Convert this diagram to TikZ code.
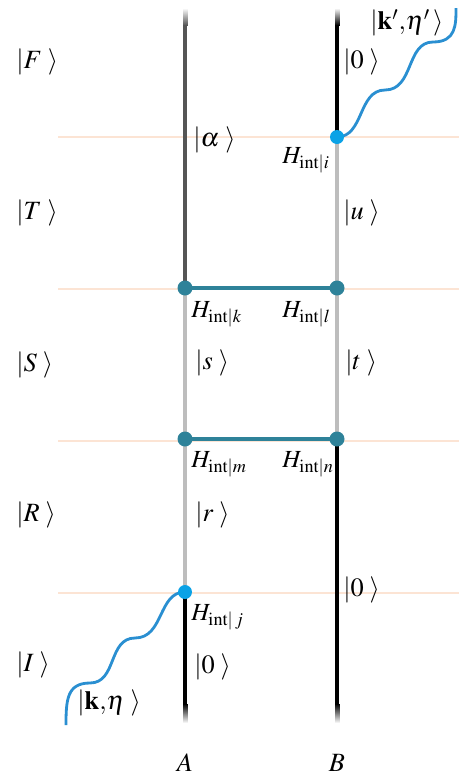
\documentclass[tikz,border=0pt]{standalone}
\usepackage{mathptmx}
\usepackage{fontspec}
\setmainfont{Liberation Serif}
\usetikzlibrary{positioning, backgrounds}
\definecolor{lnA}{HTML}{555555}
\definecolor{lnL}{HTML}{BDBDBD}
\definecolor{rng}{HTML}{2E8299}
\definecolor{phc}{HTML}{2A8FD1}
\definecolor{phd}{HTML}{0BA2E6}
\definecolor{slc}{HTML}{FCE4D4}
\newcommand{\kt}[1]{\ensuremath{|#1\;\rangle}}

\begin{document}
\begin{tikzpicture}[x=0.02cm, y=-0.02cm,
    font=\fontsize{15}{17}\selectfont,
    slice/.style={slc, line width=0.6pt},
    wl/.style={line width=2.8pt},
    rung/.style={rng, line width=2.8pt},
    vtx/.style={circle, fill=rng, minimum size=0.3cm, inner sep=0pt},
    emt/.style={circle, fill=phd, minimum size=0.28cm, inner sep=0pt},
    ph/.style={phc, line width=1.6pt},
    lab/.style={anchor=west, inner sep=0pt},
    hlab/.style={anchor=base west, inner sep=0pt,
                 font=\fontsize{14}{16}\selectfont},
  ]
  \useasboundingbox (0,0) rectangle (459,778);

  % vertices
  \node[emt] (i) at (337,137) {};
  \node[vtx] (k) at (185,288) {};
  \node[vtx] (l) at (337,288) {};
  \node[vtx] (m) at (185,439) {};
  \node[vtx] (n) at (337,439) {};
  \node[emt] (j) at (185,592) {};
  \coordinate (Atop) at (185,25);  \coordinate (Abot) at (185,705);
  \coordinate (Btop) at (337,25);  \coordinate (Bbot) at (337,705);
  \coordinate (kin)  at (66,725);  \coordinate (kout) at (456,8);

  \begin{scope}[on background layer]
    % time slices
    \foreach \y in {137,289,441,593}
      \draw[slice] (58,\y) -- (459,\y);
    % faded ends of the world lines
    \foreach \s [evaluate=\s as \p using 5.8*\s] in {0,...,17} {
      \fill[lnA!\p!white]   (182.5,8+\s) rectangle (187.5,9.2+\s);
      \fill[black!\p!white] (334.5,8+\s) rectangle (339.5,9.2+\s);
    }
    \foreach \s [evaluate=\s as \p using 5.2*\s] in {0,...,19} {
      \fill[black!\p!white] (182.5,724-\s) rectangle (187.5,722.8-\s);
      \fill[black!\p!white] (334.5,724-\s) rectangle (339.5,722.8-\s);
    }
    % world line A
    \draw[wl, lnA] (Atop) -- (k.center);
    \draw[wl, lnL] (k.center) -- (m.center);
    \draw[wl, lnL] (m.center) -- (j.center);
    \draw[wl, black] (j.center) -- (Abot);
    % world line B
    \draw[wl, black] (Btop) -- (i.center);
    \draw[wl, lnL] (i.center) -- (l.center);
    \draw[wl, lnL] (l.center) -- (n.center);
    \draw[wl, black] (n.center) -- (Bbot);
    % exchanges
    \draw[rung] (k.center) -- (l.center);
    \draw[rung] (m.center) -- (n.center);
    % photons
    \draw[ph] (i.center) .. controls (364,137) and (358,90) .. (385,90)
      .. controls (414,90) and (406,42) .. (433,42)
      .. controls (456,42) and (456,25) .. (kout);
    \draw[ph] (j.center) .. controls (158,592) and (164,638) .. (135,638)
      .. controls (108,638) and (117,683) .. (90,683)
      .. controls (67,683) and (66,700) .. (kin);
  \end{scope}

  % states
  \node[lab] (sF) at (16,62)  {\kt{F}};
  \node[lab] (sT) at (16,213) {\kt{T}};
  \node[lab] (sS) at (16,365) {\kt{S}};
  \node[lab] (sR) at (16,515) {\kt{R}};
  \node[lab] (sI) at (16,665) {\kt{I}};

  \node[lab] (al) at (193,140) {\kt{\alpha}};
  \node[lab] (s)  at (195,363) {\kt{s}};
  \node[lab] (r)  at (195,515) {\kt{r}};
  \node[lab] (A0) at (194,667) {\kt{0}};
  \node[lab] (B0) at (343,62)  {\kt{0}};
  \node[lab] (u)  at (343,213) {\kt{u}};
  \node[lab] (t)  at (345,363) {\kt{t}};
  \node[lab] (B1) at (343,590) {\kt{0}};
  \node[lab] (ko) at (370,23)  {$|\mathbf{k}'{,}\eta'\,\rangle$};
  \node[lab] (ki) at (77,703)  {$|\mathbf{k}{,}\eta\;\rangle$};

  % interaction labels
  \node[hlab] (Hi) at (282,163) {$H_{\mathrm{int}|i}$};
  \node[hlab] (Hk) at (191,317) {$H_{\mathrm{int}|k}$};
  \node[hlab] (Hl) at (282,317) {$H_{\mathrm{int}|l}$};
  \node[hlab] (Hm) at (191,467) {$H_{\mathrm{int}|m}$};
  \node[hlab] (Hn) at (282,467) {$H_{\mathrm{int}|n}$};
  \node[hlab] (Hj) at (191,620) {$H_{\mathrm{int}|\,j}$};

  \node (lA) at (185,763) {$A$};
  \node (lB) at (337,763) {$B$};
\end{tikzpicture}
\end{document}
